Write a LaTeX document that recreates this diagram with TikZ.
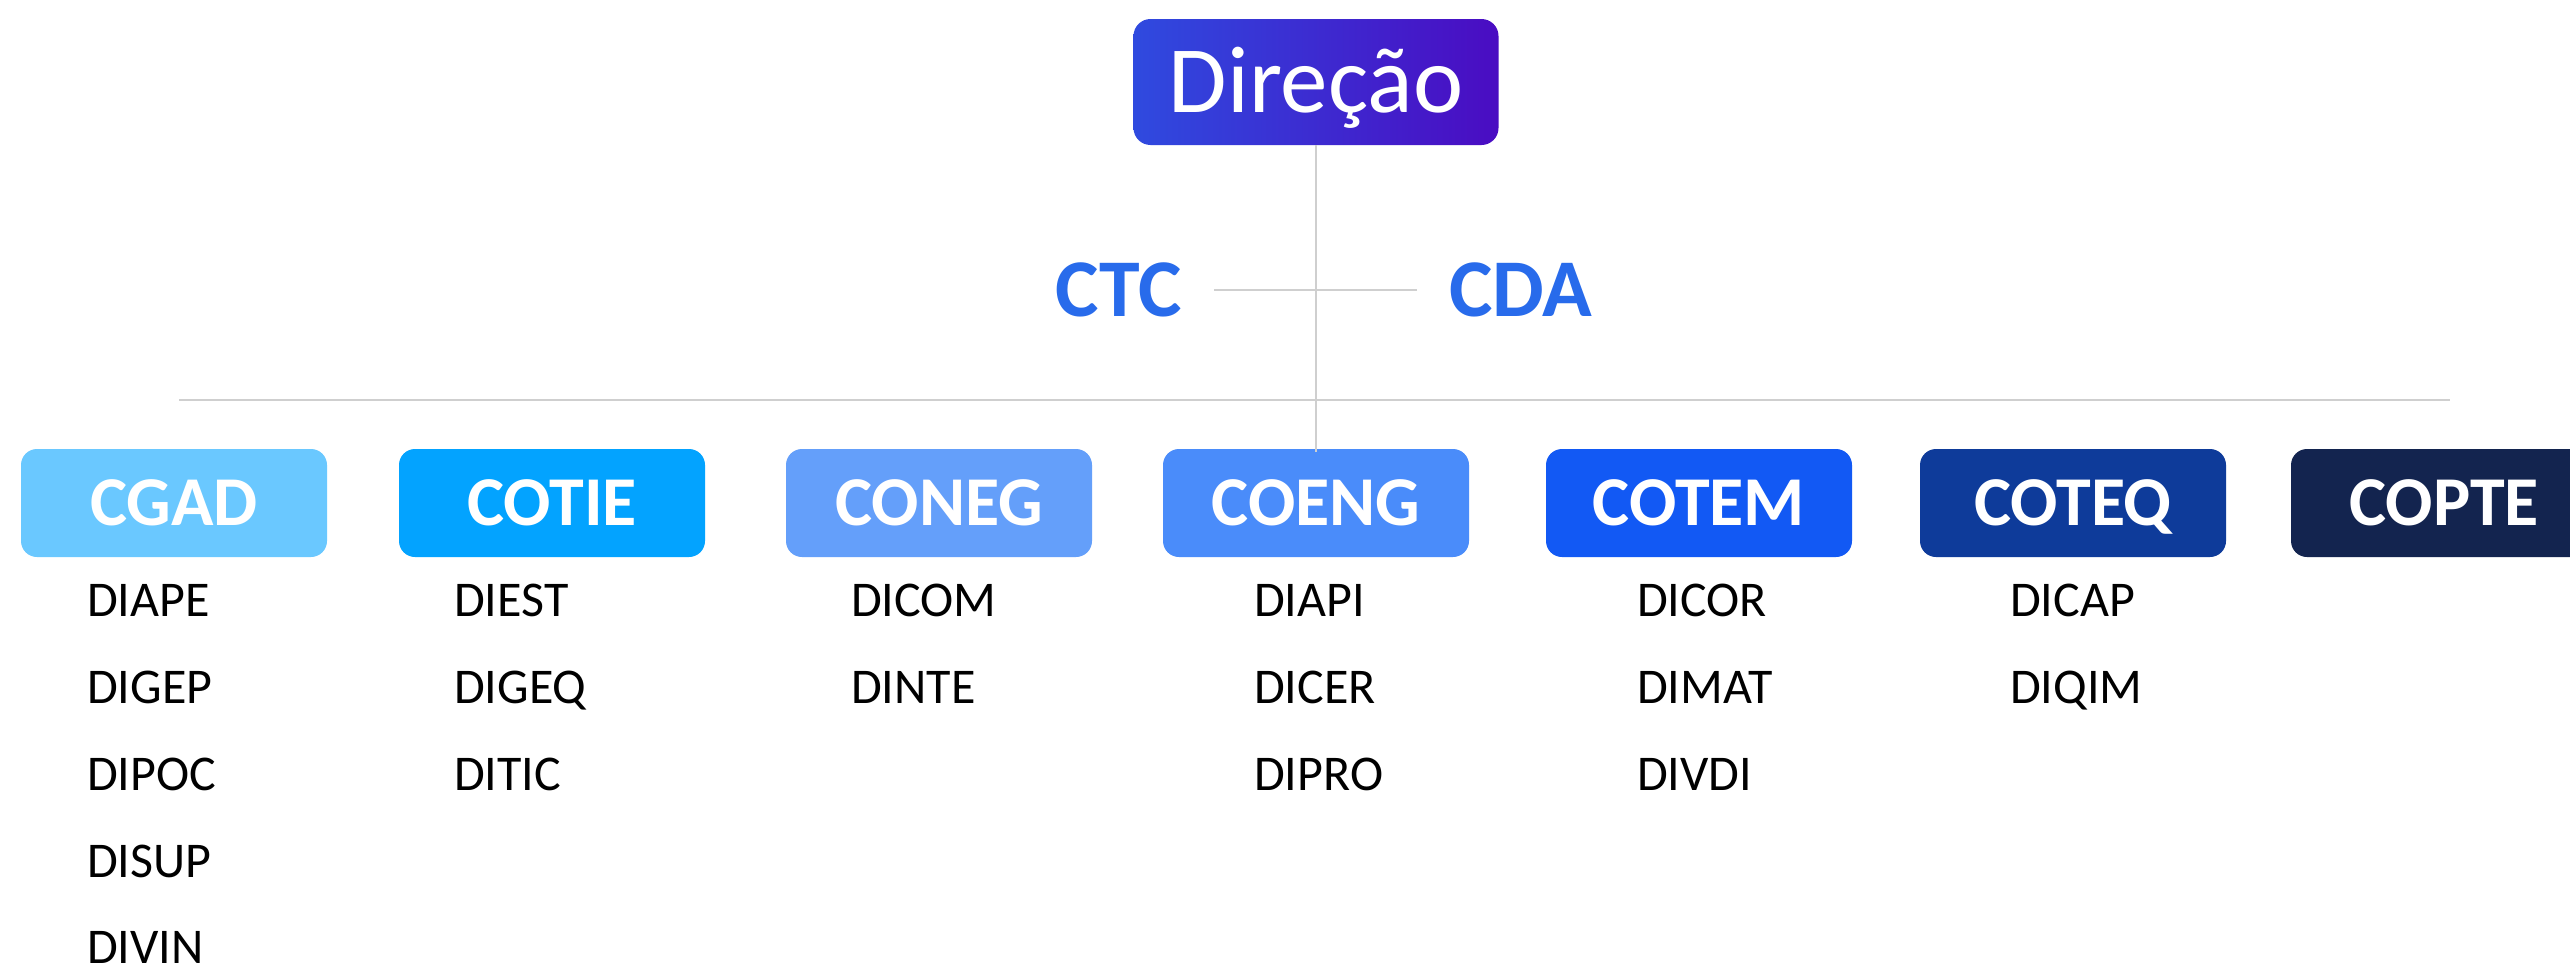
\documentclass[tikz,border=0pt]{standalone}
\usepackage{fontspec}
\setmainfont{Carlito}
\definecolor{cgad}{HTML}{6AC8FF}
\definecolor{cotie}{HTML}{03A3FF}
\definecolor{coneg}{HTML}{649FFA}
\definecolor{coeng}{HTML}{4A8CFA}
\definecolor{cotem}{HTML}{1259F4}
\definecolor{coteq}{HTML}{0E3B9A}
\definecolor{copte}{HTML}{13244F}
\definecolor{dirA}{HTML}{2F4ADF}
\definecolor{dirB}{HTML}{4A0CC2}
\definecolor{accent}{HTML}{286BEB}
\definecolor{linegray}{HTML}{CFCFCF}
\tikzset{
  conn/.style={draw=linegray, line width=2.5pt},
  unitbox/.style={rounded corners=16pt, minimum width=306pt, minimum height=108pt,
    inner sep=0pt, text=white, font=\fontsize{70}{80}\selectfont\bfseries,
    text height=44pt, text depth=0pt},
  council/.style={inner ysep=0pt, inner xsep=32pt, text=accent,
    font=\fontsize{82}{90}\selectfont\bfseries, text height=52pt, text depth=0pt},
  item/.style={anchor=base west, inner sep=0pt, font=\fontsize{50}{60}\selectfont, text=black},
}
\begin{document}
\begin{tikzpicture}[x=1pt,y=-1pt]
\clip (0,0) rectangle (2570,972);
\fill[white] (0,0) rectangle (2570,972);
% top node
\node[rounded corners=17pt, minimum width=365pt, minimum height=126pt, inner sep=0pt,
  left color=dirA, right color=dirB, draw=none, text=white,
  font=\fontsize{95}{100}\selectfont, text height=60pt, text depth=0pt]
  (dir) at (1316,82) {Direção};
% councils
\node[council, anchor=east] (ctc) at (1214,290) {CTC};
\node[council, anchor=west] (cda) at (1417,290) {CDA};
% units
\node[unitbox, fill=cgad]  (cgad)  at (174,503)  {CGAD};
\node[unitbox, fill=cotie] (cotie) at (552,503)  {COTIE};
\node[unitbox, fill=coneg] (coneg) at (939,503)  {CONEG};
\node[unitbox, fill=coeng] (coeng) at (1316,503) {COENG};
\node[unitbox, fill=cotem] (cotem) at (1699,503) {COTEM};
\node[unitbox, fill=coteq] (coteq) at (2073,503) {COTEQ};
\node[unitbox, fill=copte] (copte) at (2444,503) {COPTE};
% connectors
\coordinate (hl) at (179,400);
\coordinate (hr) at (2450,400);
\draw[conn] (hl) -- (hr);
\draw[conn] (ctc) -- (cda);
\draw[conn] (dir.south) -- ([yshift=-3pt]coeng.north);
% lists
\node[item] (diape) at (87,616) {DIAPE};
\node[item] (digep) at (87,703) {DIGEP};
\node[item] (dipoc) at (87,790) {DIPOC};
\node[item] (disup) at (87,877) {DISUP};
\node[item] (divin) at (87,963) {DIVIN};
\node[item] (diest) at (454,616) {DIEST};
\node[item] (digeq) at (454,703) {DIGEQ};
\node[item] (ditic) at (454,790) {DITIC};
\node[item] (dicom) at (851,616) {DICOM};
\node[item] (dinte) at (851,703) {DINTE};
\node[item] (diapi) at (1254,616) {DIAPI};
\node[item] (dicer) at (1254,703) {DICER};
\node[item] (dipro) at (1254,790) {DIPRO};
\node[item] (dicor) at (1637,616) {DICOR};
\node[item] (dimat) at (1637,703) {DIMAT};
\node[item] (divdi) at (1637,790) {DIVDI};
\node[item] (dicap) at (2010,616) {DICAP};
\node[item] (diqim) at (2010,703) {DIQIM};
\end{tikzpicture}
\end{document}
